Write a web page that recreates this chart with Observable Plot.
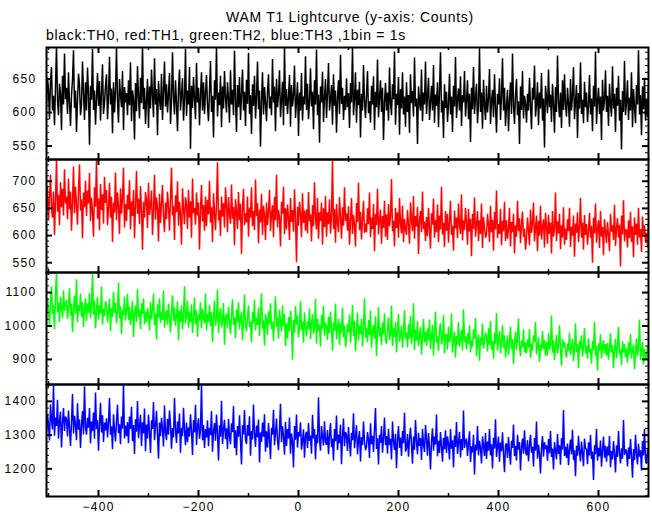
<!DOCTYPE html>
<html><head><meta charset="utf-8">
<script src="https://cdn.jsdelivr.net/npm/d3@7"></script>
<script src="https://cdn.jsdelivr.net/npm/@observablehq/plot@0.6"></script>
<style>
body{margin:0;background:#fff;}
#wrap{position:relative;width:652px;height:515px;overflow:hidden;font-family:"Liberation Sans",Arial,sans-serif;}
.txt{position:absolute;font-size:14px;line-height:14px;letter-spacing:0.7px;white-space:nowrap;color:#000;}
#title{left:150px;width:400px;text-align:center;top:10px;}
#sub{left:46px;top:28px;}
.pan{position:absolute;left:0;}
</style></head>
<body><div id="wrap">
<div id="title" class="txt">WAM T1 Lightcurve (y-axis: Counts)</div>
<div id="sub" class="txt">black:TH0, red:TH1, green:TH2, blue:TH3 ,1bin = 1s</div>
</div>
<script>
// time axis (seconds): samples every DT seconds starting at T0
const T0 = -504, DT = 2, T1 = 700;
const xMajorTicks = [-400, -200, 0, 200, 400, 600];
const xMinorTicks = [-500, -300, -100, 100, 300, 500];

const th0 = [
611,652,634,590,647,668,603,625,581,639,700,618,596,643,629,574,655,612,688,620,
637,598,660,615,580,626,649,693,607,633,571,619,658,641,596,612,676,630,589,645,
603,667,628,552,640,619,695,604,633,582,621,659,610,647,588,628,672,598,615,640,
657,590,624,683,612,636,569,645,600,631,697,618,585,650,627,608,662,574,638,615,
629,596,648,611,675,587,633,620,560,644,602,669,623,591,652,614,700,605,637,583,
618,650,577,639,606,664,625,593,681,612,635,566,647,620,604,658,589,631,676,609,
642,600,628,659,583,616,690,624,597,648,613,572,636,664,603,627,651,588,620,695,
595,633,612,668,546,640,607,653,621,590,674,615,637,581,626,660,603,645,598,629,
656,610,587,632,677,601,625,563,648,619,698,594,630,611,655,578,639,606,662,621,
600,645,620,585,663,612,634,596,692,617,571,641,608,653,589,627,664,603,631,580,
649,613,689,598,626,568,642,610,655,591,622,676,605,633,549,618,660,597,638,614,
587,631,657,606,624,596,680,615,639,572,650,608,627,663,593,618,646,581,698,610,
635,598,622,656,579,641,609,626,670,592,617,645,565,630,603,659,588,624,612,684,
604,643,590,618,666,609,631,575,648,612,694,596,627,555,639,615,661,586,623,650,
592,628,674,603,619,641,582,657,610,633,570,622,648,598,686,613,637,589,625,604,
651,608,629,577,644,615,699,596,621,660,585,634,611,646,563,628,603,671,617,592,
626,662,599,617,585,640,612,654,574,631,608,679,593,622,648,601,637,559,615,644,
603,630,588,667,614,596,642,620,691,582,628,611,653,567,635,606,660,597,624,579,
645,601,626,570,657,614,632,594,682,609,621,553,639,616,603,664,587,630,612,676,
598,624,652,589,615,640,603,671,585,627,610,645,578,633,690,600,618,562,642,607,
631,586,613,658,597,624,571,640,609,683,592,619,636,603,654,580,626,615,662,594,
617,648,590,628,556,637,605,668,598,622,643,584,611,696,601,630,576,649,612,589,
640,600,621,665,583,616,634,593,657,608,570,628,612,651,589,624,681,603,637,580,
609,634,572,620,645,598,688,611,583,627,650,596,617,553,639,604,662,591,625,613,
585,628,603,652,611,575,637,619,670,594,612,645,581,630,606,659,588,621,548,640,
622,599,664,608,627,586,643,612,570,638,601,685,616,593,630,577,648,604,657,611,
594,637,613,579,650,603,626,668,590,617,641,562,629,606,675,598,619,584,646,608,
630,586,611,656,597,621,572,640,609,691,583,615,637,598,624,559,649,603,618,663,
601,625,580,643,612,594,669,606,628,571,637,610,655,588,619,545,632,601,677,596,
615,648,589,622,603,660,578,635,609,584,641,612,693,597,626,566,639,605,652,588,
620,593,641];

const th1 = [
645,690,628,668,712,650,633,681,601,663,740,644,675,619,698,652,686,637,722,659,
672,630,705,648,681,609,663,727,641,690,656,620,684,731,646,667,595,679,652,701,
636,683,659,715,627,670,644,598,689,653,738,631,668,610,695,647,676,622,708,660,
684,619,650,697,633,672,588,661,642,716,628,679,654,603,687,640,669,725,615,658,
627,675,648,702,611,663,636,684,595,655,719,640,668,621,691,646,574,662,633,680,
666,614,697,638,655,683,601,646,712,629,670,652,589,677,623,658,693,635,606,661,
630,681,652,609,668,725,637,655,592,674,643,700,618,662,639,583,687,650,621,671,
658,612,684,633,663,596,705,641,651,620,679,637,661,574,648,693,626,656,609,672,
617,666,639,701,624,652,588,678,643,610,659,735,628,647,599,672,635,660,615,689,
656,606,671,640,622,694,631,653,582,667,644,612,680,628,659,566,649,686,619,641,
624,672,598,651,633,689,617,645,610,703,636,660,586,648,624,677,601,655,638,592,
661,619,644,684,608,639,656,597,671,628,712,615,647,633,580,662,640,690,603,650,
611,657,633,592,669,625,647,607,685,630,551,653,618,662,640,597,678,623,646,609,
648,604,680,626,639,589,656,617,698,632,611,669,594,643,627,661,583,650,616,673,
598,643,621,667,604,635,740,612,649,587,658,625,606,671,633,594,652,618,689,627,
641,609,654,583,627,669,603,638,619,580,660,625,697,610,644,593,631,664,605,622,
606,650,621,679,597,633,612,658,571,640,619,686,602,629,648,585,636,614,664,598,
639,592,658,617,635,704,608,627,580,651,614,643,596,669,622,604,655,588,631,612,
601,647,620,585,661,629,608,673,594,636,617,653,566,629,645,606,681,612,626,590,
634,599,651,613,576,641,620,668,596,629,606,657,588,637,611,690,602,624,579,645,
609,640,587,626,664,601,618,572,646,613,633,595,659,620,603,676,591,628,610,651,
625,583,649,607,631,562,640,612,670,598,619,645,590,628,603,659,577,634,614,596,
602,640,619,588,655,606,629,572,644,611,683,595,621,603,649,582,627,608,662,590,
628,594,613,651,580,625,606,640,567,619,598,664,608,632,586,620,644,597,613,574,
596,633,610,582,648,605,622,661,589,614,637,571,627,600,655,593,616,630,578,642,
617,585,638,603,624,567,645,598,612,679,590,626,604,640,575,619,596,652,583,613,
592,630,608,651,579,616,600,637,561,622,605,643,588,614,669,596,624,574,638,601,
621,583,609,642,596,618,550,633,604,659,587,612,628,577,645,598,616,564,630,607,
586,625,600,571,640,607,619,592,656,581,613,632,596,620,543,637,602,665,589,611,
610,578,628,595,644,588,617,560,633,601,622,583,651,596,612,570,635,603,619,587,
605,578,621];

const th2 = [
1028,1084,1049,1003,1071,1119,1036,1062,990,1095,1157,1041,1070,1012,1088,1053,1024,1107,1045,1066,
1079,1021,1058,1113,1030,1067,982,1049,1091,1036,1140,1011,1063,1044,1097,1027,1072,998,1055,1083,
1015,1068,1040,1099,1023,1057,1160,1034,1076,993,1048,1087,1019,1061,1037,1118,1004,1052,1029,1074,
1063,1011,1046,1081,985,1054,1027,1102,1039,1070,1008,1044,1129,1022,1060,976,1050,1031,1088,1016,
1045,1096,1018,1058,1003,1039,1075,967,1034,1061,1012,1110,1027,1049,990,1068,1035,1082,1006,1043,
1011,1054,1032,986,1072,1020,1049,1097,1002,1038,960,1065,1024,1083,1009,1041,1018,1106,995,1030,
1048,1004,1067,1025,981,1039,1092,1015,1056,1001,1031,1074,957,1046,1012,1062,990,1028,1119,1007,
1030,1076,995,1040,1011,1064,979,1023,1085,1005,1047,968,1036,1016,1071,994,1052,1026,1008,1098,
987,1036,1012,1063,999,1041,952,1025,1076,1001,1019,1109,978,1033,1054,996,1017,1069,944,1028,
1037,993,1058,1015,976,1032,1080,1003,1026,964,1049,1011,1071,990,1022,1043,958,1016,1094,1000,
984,1027,1062,996,1013,951,1041,1008,1079,987,1024,1003,1055,970,1033,1097,992,1018,941,1036,
1019,973,1044,1006,1068,990,1012,955,1030,1088,997,1026,962,1049,1010,983,1061,1001,1035,940,
1008,962,1027,985,1046,1000,899,1018,979,1059,1004,1031,966,993,1074,987,1013,950,1040,998,
969,1015,990,1052,961,1008,1036,976,995,1081,948,1022,985,1004,939,1033,992,1060,971,1010,
1001,958,1028,978,1043,994,926,1012,985,1067,960,997,1021,943,1009,980,1055,966,1002,937,
962,1007,981,1034,949,993,1063,970,1015,925,988,1040,957,1001,976,1022,938,996,1083,965,
994,951,1018,972,1046,935,986,1004,961,1029,910,982,1057,968,995,943,1011,976,1038,959,
947,989,1025,958,976,1061,940,993,967,1012,921,984,1036,953,970,1002,935,981,1047,962,
981,936,1005,962,1030,947,975,1068,928,990,956,1014,940,972,997,915,966,1021,951,983,
940,992,957,1019,931,966,1004,912,978,1043,950,969,925,988,1008,945,962,1032,918,973,
976,929,998,951,965,1037,920,957,983,906,970,944,1012,938,961,989,927,1050,952,969,
930,979,947,1003,921,958,937,990,962,1024,909,951,975,896,966,943,1008,932,957,981,
968,924,993,943,1015,929,954,902,980,947,1039,926,961,985,918,952,1001,935,972,906,
939,972,913,955,998,930,961,886,949,983,927,964,1022,941,910,957,935,990,921,951,
918,960,935,991,904,947,926,972,952,1012,915,939,966,893,944,927,985,931,958,910,
953,912,978,929,946,1031,920,957,898,939,973,917,944,1002,930,881,961,936,952,925,
905,947,926,980,913,938,961,895,929,1008,922,945,874,956,931,972,908,939,993,918,
941,902,963,920,932,887,956,928,1012,910,940,866,948,925,975,903,934,958,917,946,
911,950,899,936,978,920,943,874,929,962,904,938,997,915,932,883,955,921,946,907,
933,890,951,916,975,902,928,944,871,920,963,909,937,1019,898,925,952,886,931,909,
901,939,918];

const th3 = [
1309,1362,1330,1284,1391,1345,1317,1450,1298,1352,1327,1405,1289,1341,1369,1263,1336,1380,1312,1355,
1347,1296,1373,1320,1268,1338,1422,1305,1357,1331,1285,1394,1316,1346,1262,1329,1371,1302,1445,1323,
1301,1351,1322,1380,1276,1340,1312,1367,1289,1426,1318,1345,1254,1333,1396,1308,1359,1280,1337,1314,
1350,1293,1337,1410,1301,1326,1258,1362,1315,1281,1343,1390,1306,1332,1273,1355,1319,1452,1290,1328,
1297,1339,1276,1355,1318,1384,1282,1330,1244,1347,1310,1401,1291,1326,1360,1268,1338,1305,1379,1252,
1331,1290,1360,1309,1247,1344,1318,1398,1285,1326,1372,1301,1230,1337,1297,1351,1319,1266,1388,1307,
1285,1348,1301,1373,1330,1260,1321,1293,1410,1316,1277,1340,1305,1364,1248,1322,1297,1381,1314,1270,
1337,1279,1323,1296,1362,1312,1241,1345,1308,1390,1271,1325,1350,1289,1315,1452,1285,1330,1262,1318,
1293,1344,1267,1322,1300,1371,1251,1310,1336,1283,1361,1305,1225,1329,1295,1402,1274,1316,1345,1288,
1320,1259,1348,1297,1273,1335,1309,1386,1262,1314,1240,1327,1295,1359,1281,1213,1330,1302,1374,1285,
1274,1330,1298,1356,1239,1312,1287,1391,1305,1265,1328,1294,1346,1219,1308,1280,1337,1295,1362,1251,
1311,1263,1336,1287,1229,1322,1301,1375,1270,1306,1349,1284,1255,1317,1393,1279,1326,1296,1242,1339,
1268,1318,1290,1352,1245,1305,1279,1204,1327,1286,1361,1263,1309,1296,1338,1257,1282,1317,1233,1300,
1310,1262,1336,1283,1299,1245,1360,1290,1318,1228,1302,1276,1412,1288,1254,1327,1295,1269,1341,1281,
1271,1315,1243,1298,1336,1264,1290,1225,1318,1282,1358,1256,1302,1276,1331,1214,1295,1349,1267,1309,
1300,1253,1324,1279,1237,1307,1285,1365,1261,1296,1329,1243,1286,1312,1222,1294,1270,1340,1281,1255,
1264,1309,1287,1232,1335,1273,1298,1250,1319,1380,1259,1291,1213,1301,1277,1327,1248,1290,1352,1271,
1297,1245,1318,1270,1289,1228,1340,1283,1256,1304,1202,1285,1327,1262,1293,1238,1312,1276,1366,1251,
1261,1303,1236,1289,1322,1271,1215,1296,1257,1345,1280,1243,1307,1268,1291,1226,1318,1273,1250,1330,
1288,1239,1306,1263,1198,1281,1320,1254,1296,1272,1361,1237,1283,1247,1309,1266,1221,1292,1258,1314,
1247,1296,1271,1228,1318,1260,1285,1205,1299,1265,1339,1244,1278,1310,1234,1288,1255,1373,1262,1283,
1290,1238,1276,1311,1220,1267,1249,1300,1183,1272,1254,1327,1240,1283,1261,1216,1296,1268,1238,1306,
1229,1281,1254,1318,1240,1273,1201,1292,1260,1347,1235,1266,1296,1221,1278,1252,1308,1243,1190,1271,
1275,1232,1294,1250,1212,1283,1262,1331,1238,1268,1225,1301,1257,1279,1195,1264,1290,1245,1314,1253,
1240,1285,1222,1269,1301,1248,1266,1207,1291,1254,1340,1230,1271,1245,1186,1262,1297,1236,1279,1259,
1269,1224,1288,1246,1312,1235,1260,1198,1279,1253,1228,1303,1244,1270,1212,1291,1257,1374,1238,1266,
1232,1275,1211,1259,1287,1243,1316,1226,1255,1178,1268,1239,1298,1250,1222,1281,1247,1208,1290,1261,
1258,1214,1279,1240,1300,1229,1251,1167,1270,1243,1318,1224,1262,1237,1284,1206,1255,1296,1233,1268,
1221,1266,1240,1297,1205,1253,1228,1282,1244,1189,1270,1235,1312,1247,1216,1261,1230,1345,1241,1258,
1252,1207,1263,1229,1288,1238,1174,1259,1226,1301,1245,1213,1274,1236,1255,1195,1282,1240,1318,1229,
1215,1258,1233];

const yTicks0 = [550, 600, 650];
const yTicks1 = [550, 600, 650, 700];
const yTicks2 = [900, 1000, 1100];
const yTicks3 = [1200, 1300, 1400];

const panels = [
  {values: th0, color: "#000000", domain: [530, 697], major: yTicks0, minorStep: 10, top: 47, h: 112},
  {values: th1, color: "#ff0000", domain: [532, 740], major: yTicks1, minorStep: 10, top: 159, h: 113},
  {values: th2, color: "#00ff00", domain: [825, 1160], major: yTicks2, minorStep: 20, top: 272, h: 112},
  {values: th3, color: "#0000ff", domain: [1118, 1450], major: yTicks3, minorStep: 20, top: 384, h: 112}
];

const ML = 46, MR = 4, WIDTH = 652;
const W = WIDTH - ML - MR;
const fmt = d3.format("d");
const wrap = document.getElementById("wrap");

panels.forEach((p, k) => {
  const bottom = k === panels.length - 1;
  const data = p.values.map((v, i) => ({t: T0 + i * DT, v}));
  const [d0, d1] = p.domain;
  const minor = d3.range(Math.ceil(d0 / p.minorStep) * p.minorStep, d1 + 1e-9, p.minorStep)
    .filter(v => !p.major.includes(v));
  const H = p.h;
  const mb = bottom ? 20 : 1;
  const chart = Plot.plot({
    width: WIDTH,
    height: H + 1 + mb,
    marginLeft: ML, marginRight: MR, marginTop: 1, marginBottom: mb,
    x: {domain: [T0, T1], axis: null},
    y: {domain: p.domain, axis: null},
    style: "background:transparent;font-family:'Liberation Sans',Arial,sans-serif;letter-spacing:1.3px;overflow:visible;",
    marks: [
      Plot.lineY(data, {x: "t", y: "v", stroke: p.color, strokeWidth: 1.5, strokeLinejoin: "miter", strokeMiterlimit: 2, clip: true}),
      Plot.tickX(xMajorTicks, {x: d => d, insetTop: H - 6, strokeWidth: 2}),
      Plot.tickX(xMajorTicks, {x: d => d, insetBottom: H - 6, strokeWidth: 2}),
      Plot.tickX(xMinorTicks, {x: d => d, insetTop: H - 3, strokeWidth: 1.5}),
      Plot.tickX(xMinorTicks, {x: d => d, insetBottom: H - 3, strokeWidth: 1.5}),
      Plot.tickY(p.major, {y: d => d, insetRight: W - 6, strokeWidth: 2}),
      Plot.tickY(p.major, {y: d => d, insetLeft: W - 6, strokeWidth: 2}),
      Plot.tickY(minor, {y: d => d, insetRight: W - 3, strokeWidth: 1}),
      Plot.tickY(minor, {y: d => d, insetLeft: W - 3, strokeWidth: 1}),
      Plot.frame({strokeWidth: 2}),
      Plot.axisY(p.major, {anchor: "left", tickSize: 0, tickPadding: 10, fontSize: 12, label: null, tickFormat: fmt}),
      bottom ? Plot.axisX(xMajorTicks, {anchor: "bottom", tickSize: 0, tickPadding: 6, fontSize: 12, label: null, tickFormat: fmt}) : null
    ]
  });
  chart.classList.add("pan");
  chart.style.top = (p.top - 1) + "px";
  wrap.appendChild(chart);
});
</script>
</body></html>
